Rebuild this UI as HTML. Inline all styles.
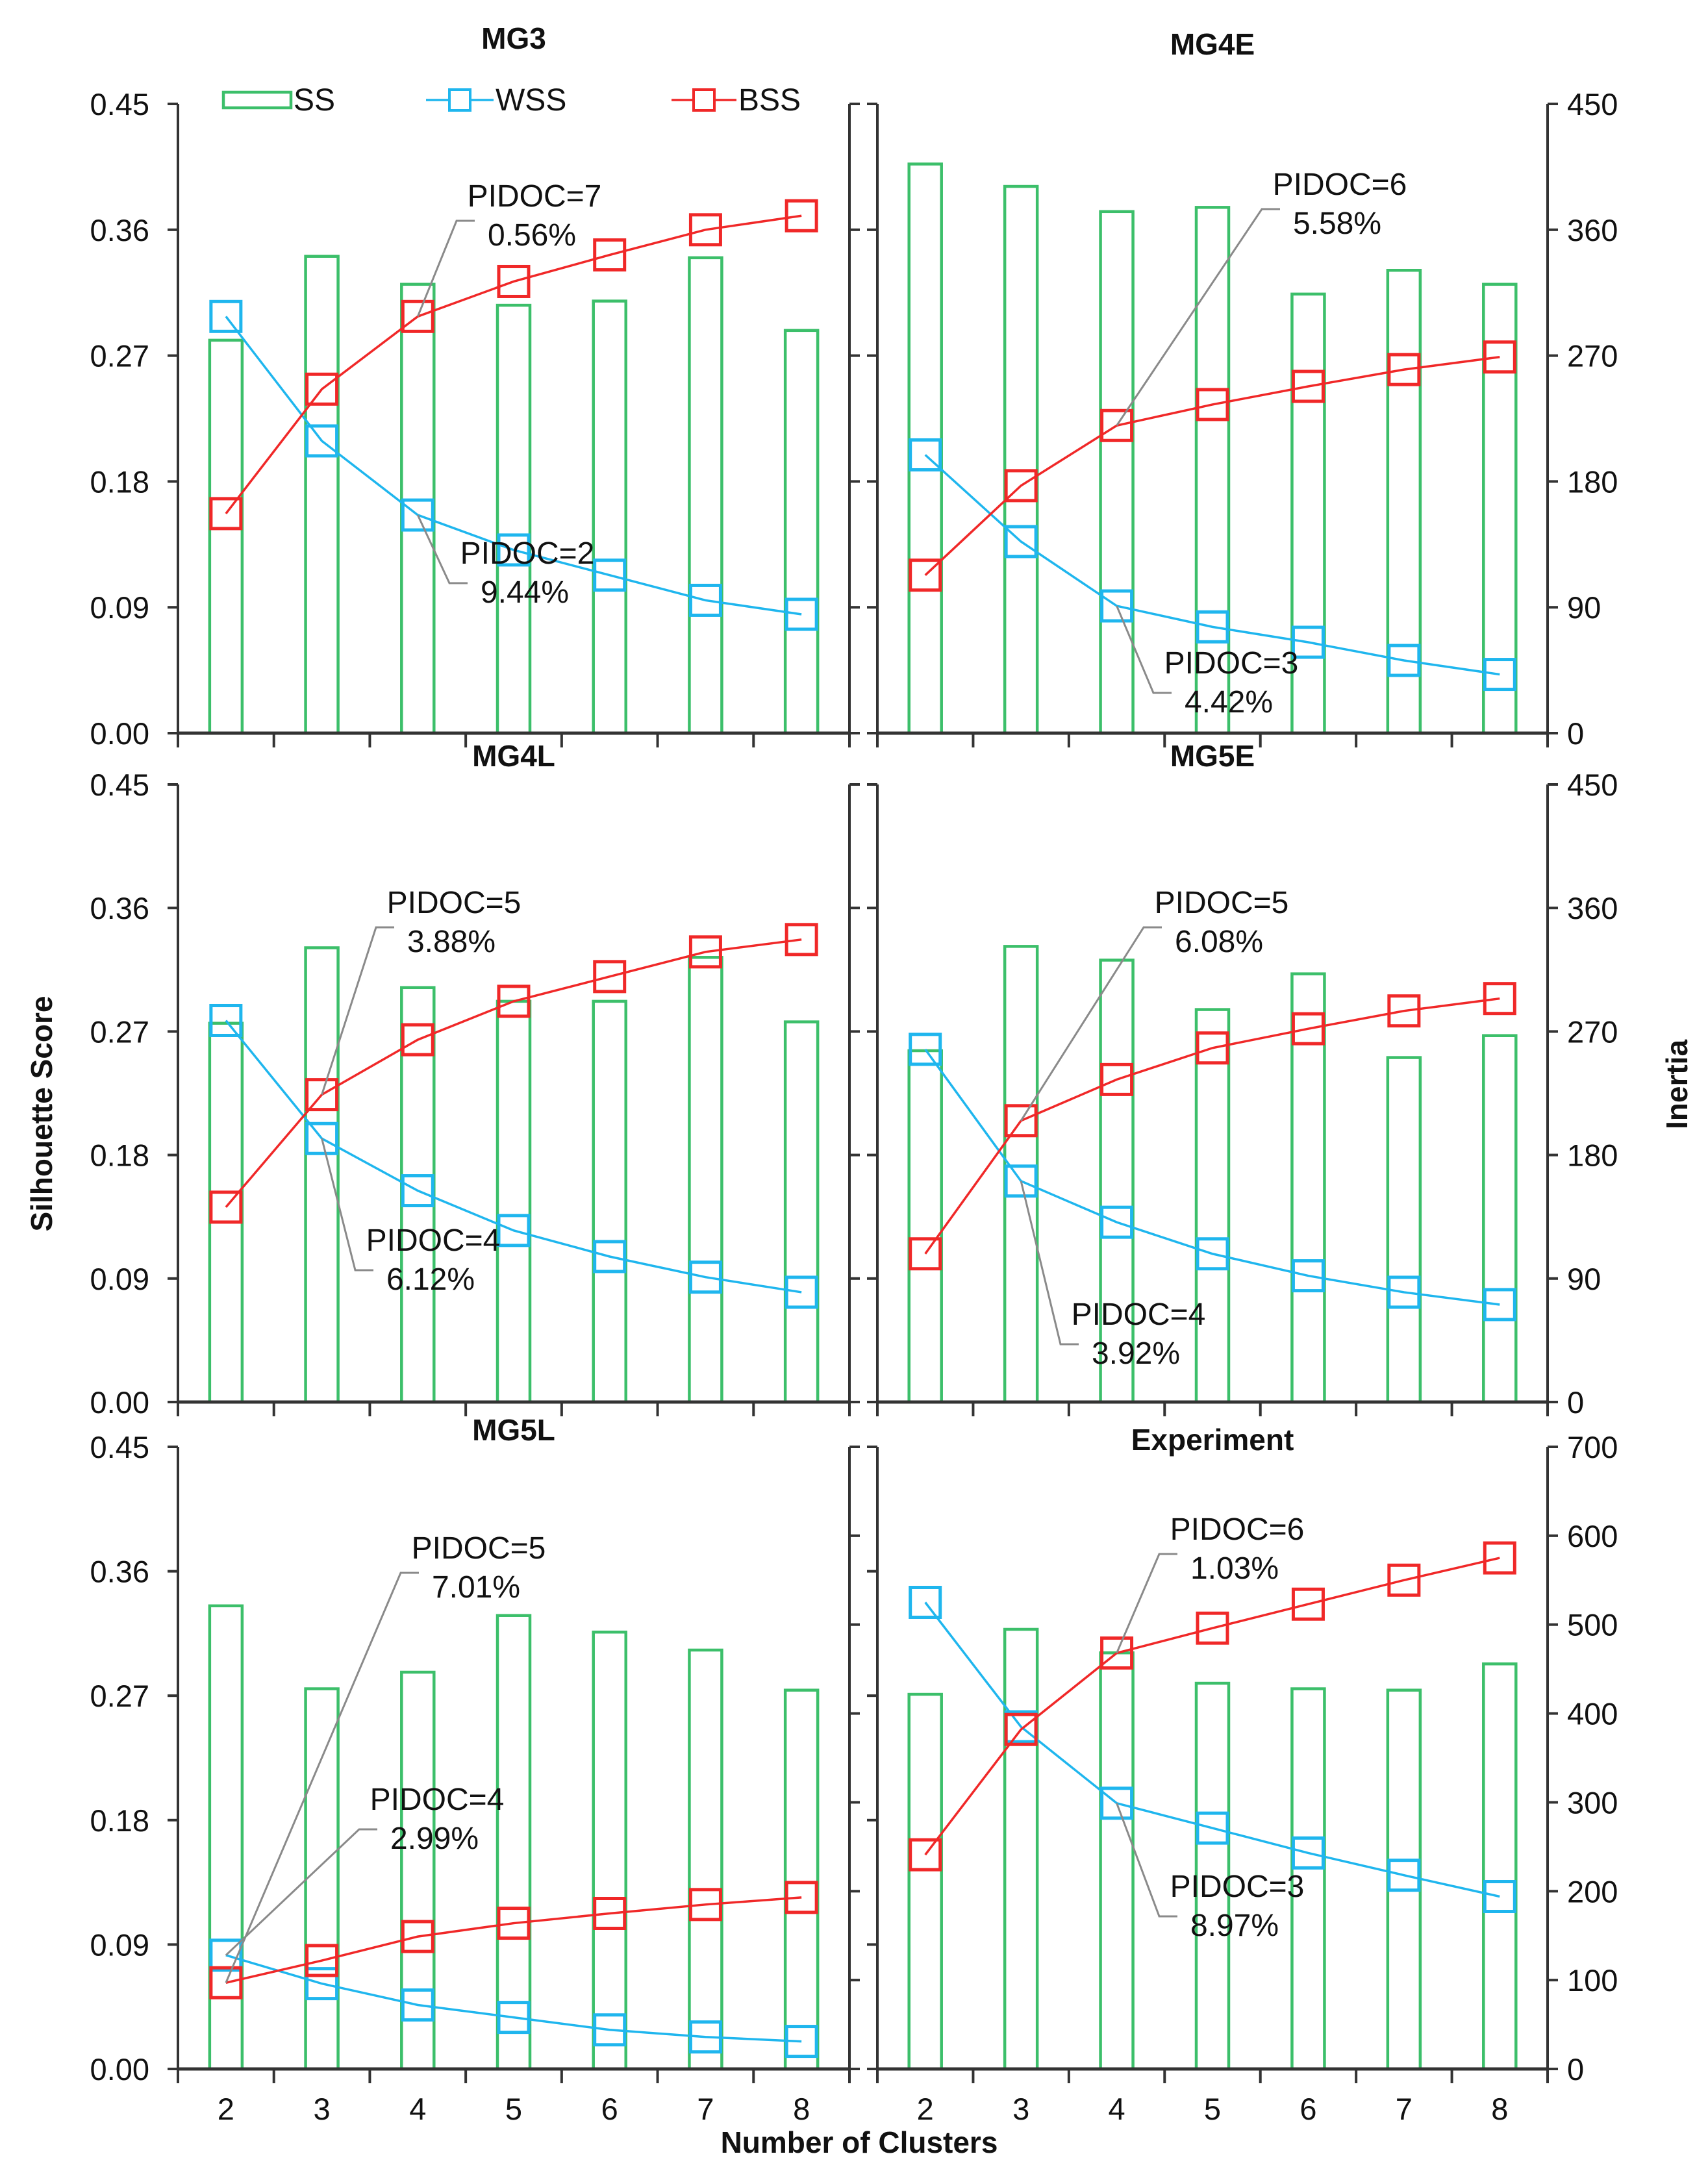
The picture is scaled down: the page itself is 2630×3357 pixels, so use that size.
<!DOCTYPE html>
<html><head><meta charset="utf-8">
<style>
html,body{margin:0;padding:0;background:#fff;}
svg{display:block;font-family:"Liberation Sans",Arial,sans-serif;}
</style></head>
<body>
<svg id="chart" xmlns="http://www.w3.org/2000/svg" width="2630" height="3357" viewBox="0 0 2630 3357">
<rect x="0" y="0" width="2630" height="3357" fill="#fff"/>
<g id="root"></g>
</svg>
<script>
// ---- data ----
const categories = [2,3,4,5,6,7,8];
const panelTitles = ["MG3","MG4E","MG4L","MG5E","MG5L","Experiment"];
const ssMG3  = [0.281,0.341,0.321,0.306,0.309,0.340,0.288];
const wssMG3 = [298,209,156,131,113,95,85];
const bssMG3 = [157,246,298,323,342,360,370];
const ssMG4E  = [0.407,0.391,0.373,0.376,0.314,0.331,0.321];
const wssMG4E = [199,137,91,76,65,52,42];
const bssMG4E = [113,177,220,235,248,260,269];
const ssMG4L  = [0.276,0.331,0.302,0.292,0.292,0.324,0.277];
const wssMG4L = [278,192,154,125,106,91,80];
const bssMG4L = [142,224,264,292,310,328,337];
const ssMG5E  = [0.256,0.332,0.322,0.286,0.312,0.251,0.267];
const wssMG5E = [257,161,131,108,92,80,71];
const bssMG5E = [108,205,235,258,272,285,294];
const ssMG5L  = [0.335,0.275,0.287,0.328,0.316,0.303,0.274];
const wssMG5L = [128,96,72,58,44,36,31];
const bssMG5L = [97,122,149,164,175,185,193];
const ssExp  = [0.271,0.318,0.301,0.279,0.275,0.274,0.293];
const wssExp = [525,385,299,271,243,218,194];
const bssExp = [241,382,468,496,523,550,575];
const silTicks = ["0.00","0.09","0.18","0.27","0.36","0.45"];
const inertiaTicks450 = ["0","90","180","270","360","450"];
const inertiaTicks700 = ["0","100","200","300","400","500","600","700"];
// annotation: [panel, series('bss'|'wss'), category index, label1, label2]
const annotLabels = [
 [0,"bss",2,"PIDOC=7","0.56%"],[0,"wss",2,"PIDOC=2","9.44%"],
 [1,"bss",2,"PIDOC=6","5.58%"],[1,"wss",2,"PIDOC=3","4.42%"],
 [2,"bss",1,"PIDOC=5","3.88%"],[2,"wss",1,"PIDOC=4","6.12%"],
 [3,"bss",1,"PIDOC=5","6.08%"],[3,"wss",1,"PIDOC=4","3.92%"],
 [4,"bss",0,"PIDOC=5","7.01%"],[4,"wss",0,"PIDOC=4","2.99%"],
 [5,"bss",2,"PIDOC=6","1.03%"],[5,"wss",2,"PIDOC=3","8.97%"]
];
// label anchor positions (layout, not data)
const annotPos = [[823,318],[812,868],[2063,300],[1896,1037],[699,1406],[667,1926],[1881,1406],[1753,2040],[737,2400],[673,2787],[1905,2371],[1905,2921]];
const titleY = [75,84,1180,1180,2218,2233];

// ---- layout ----
const NS="http://www.w3.org/2000/svg";
const root=document.getElementById('root');
function el(tag,attrs,parent){const e=document.createElementNS(NS,tag);for(const k in attrs)e.setAttribute(k,attrs[k]);(parent||root).appendChild(e);return e;}
const cols=[{x0:274,x1:1308},{x0:1351,x1:2383}];
const rows=[{y0:1129,yT:160,imax:450},{y0:2159,yT:1208,imax:450},{y0:3186,yT:2228,imax:700}];
const panels=[
 {ss:ssMG3,wss:wssMG3,bss:bssMG3},{ss:ssMG4E,wss:wssMG4E,bss:bssMG4E},
 {ss:ssMG4L,wss:wssMG4L,bss:bssMG4L},{ss:ssMG5E,wss:wssMG5E,bss:bssMG5E},
 {ss:ssMG5L,wss:wssMG5L,bss:bssMG5L},{ss:ssExp,wss:wssExp,bss:bssExp}];
const GREEN="#3cbf6a",BLUE="#1fb6ee",RED="#f02828",AX="#333";
const scales=[];
panels.forEach((p,i)=>{
  const c=cols[i%2],r=rows[Math.floor(i/2)];
  const n=categories.length, step=(c.x1-c.x0)/n;
  const xS=k=>c.x0+step*(k+0.5);
  const ySil=v=>r.y0-(v/0.45)*(r.y0-r.yT);
  const yIn=v=>r.y0-(v/r.imax)*(r.y0-r.yT);
  scales.push({xS,ySil,yIn});
  const g=el('g',{});
  
  
  // bars
  p.ss.forEach((v,k)=>{
    const b=el('rect',{x:xS(k)-25,y:ySil(v),width:50,height:r.y0-ySil(v),fill:'none',stroke:GREEN,'stroke-width':4.5},g);
    
    
  });
  // axes
  el('line',{x1:c.x0,y1:r.y0,x2:c.x1,y2:r.y0,stroke:AX,'stroke-width':5},g);
  el('line',{x1:c.x0,y1:r.yT,x2:c.x0,y2:r.y0,stroke:AX,'stroke-width':4},g);
  el('line',{x1:c.x1,y1:r.yT,x2:c.x1,y2:r.y0,stroke:AX,'stroke-width':4},g);
  for(let k=0;k<=n;k++){el('line',{x1:c.x0+step*k,y1:r.y0,x2:c.x0+step*k,y2:r.y0+22,stroke:AX,'stroke-width':4},g);}
  silTicks.forEach(s=>{const y=ySil(parseFloat(s));
    el('line',{x1:c.x0-16,y1:y,x2:c.x0,y2:y,stroke:AX,'stroke-width':4},g);
    if(i%2===0){const tt=el('text',{x:c.x0-44,y:y+17,'text-anchor':'end','font-size':47,fill:'#111'},g);tt.textContent=s;
      
      }
  });
  const itk=r.imax===700?inertiaTicks700:inertiaTicks450;
  itk.forEach(s=>{const y=yIn(parseFloat(s));
    el('line',{x1:c.x1,y1:y,x2:c.x1+16,y2:y,stroke:AX,'stroke-width':4},g);
    if(i%2===1){const tt=el('text',{x:c.x1+30,y:y+17,'font-size':47,fill:'#111'},g);tt.textContent=s;
      
      }
  });
  if(i>=4){categories.forEach((cv,k)=>{const tt=el('text',{x:xS(k),y:r.y0+78,'text-anchor':'middle','font-size':47,fill:'#111'},g);tt.textContent=cv;
    
    });}
  // lines
  [['wss',BLUE],['bss',RED]].forEach(([key,col])=>{
    const pts=p[key].map((v,k)=>xS(k)+','+yIn(v)).join(' ');
    const pl=el('polyline',{points:pts,fill:'none',stroke:col,'stroke-width':3.5},g);
    
    
    p[key].forEach((v,k)=>{
      const m=el('rect',{x:xS(k)-23,y:yIn(v)-23,width:46,height:46,fill:'none',stroke:col,'stroke-width':5},g);
      
      
    });
  });
  // title
  const t=el('text',{x:(c.x0+c.x1)/2,y:titleY[i],'text-anchor':'middle','font-size':46,'font-weight':'bold',fill:'#111'},g);
  t.textContent=panelTitles[i];
  
  
});
// annotations
annotLabels.forEach((a,j)=>{
  const s=scales[a[0]],p=panels[a[0]];
  const px=s.xS(a[2]),py=s.yIn(p[a[1]][a[2]]);
  const [lx,ly]=annotPos[j];
  const up=a[1]==='bss';
  const by= up? ly+22 : ly+30;
  const bx= lx-120;
  el('polyline',{points:`${px},${py} ${bx},${by} ${bx+28},${by}`,fill:'none',stroke:'#8a8a8a','stroke-width':3});
  const t1=el('text',{x:lx,y:ly,'text-anchor':'middle','font-size':48,fill:'#111'});t1.textContent=a[3];
  
  
  const t2=el('text',{x:lx-4,y:ly+60,'text-anchor':'middle','font-size':48,fill:'#111'});t2.textContent=a[4];
  
  
});
// legend
const lg=el('g',{});


el('rect',{x:344,y:142,width:104,height:24,fill:'none',stroke:GREEN,'stroke-width':4.5},lg);
let lt=el('text',{x:452,y:170,'font-size':48,fill:'#111'},lg);lt.textContent='SS';


el('line',{x1:656,y1:154,x2:760,y2:154,stroke:BLUE,'stroke-width':3.5},lg);
el('rect',{x:692,y:138,width:32,height:32,fill:'#fff',stroke:BLUE,'stroke-width':4},lg);
lt=el('text',{x:763,y:170,'font-size':48,fill:'#111'},lg);lt.textContent='WSS';


el('line',{x1:1034,y1:154,x2:1134,y2:154,stroke:RED,'stroke-width':3.5},lg);
el('rect',{x:1068,y:138,width:32,height:32,fill:'#fff',stroke:RED,'stroke-width':4},lg);
lt=el('text',{x:1137,y:170,'font-size':48,fill:'#111'},lg);lt.textContent='BSS';


// axis titles
let at=el('text',{x:0,y:0,transform:'translate(80,1715) rotate(-90)','text-anchor':'middle','font-size':46,'font-weight':'bold',fill:'#111'});at.textContent='Silhouette Score';


at=el('text',{x:0,y:0,transform:'translate(2598,1670) rotate(-90)','text-anchor':'middle','font-size':46,'font-weight':'bold',fill:'#111'});at.textContent='Inertia';


at=el('text',{x:1323,y:3315,'text-anchor':'middle','font-size':46,'font-weight':'bold',fill:'#111'});at.textContent='Number of Clusters';


</script>
</body></html>
